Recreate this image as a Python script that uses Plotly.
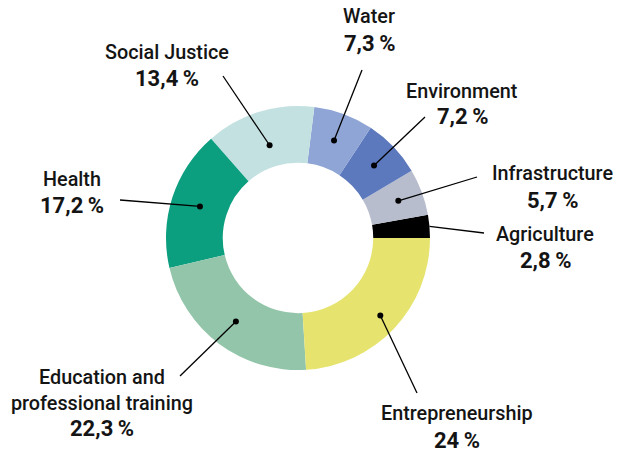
import math
import plotly.graph_objects as go

# ---- data ----
categories = ["Agriculture", "Infrastructure", "Environment", "Water",
              "Social Justice", "Health", "Education and<br>professional training",
              "Entrepreneurship"]
values = [2.8, 5.7, 7.2, 7.3, 13.4, 17.2, 22.3, 24.0]
colors = ["#000000", "#b7bdcd", "#5d79bd", "#8fa5d5",
          "#c4e1e1", "#0b9e7f", "#92c5aa", "#e6e46e"]

# ---- layout / style ----
W, H = 617, 452
CX, CY, R = 298, 238, 132
HOLE = 0.57
TXT = "#141414"

# label centre (x, y of name), leader end point, dot radius (None = no dot, start at outer edge)
label_pos = [(545, 234), (552, 173), (462, 91), (369, 16),
             (167, 52), (72, 179), (102, 390), (457, 413)]
pct_y = [260, 200, 116, 43, 78, 205, 428, 440]
line_end = [(484, 233), (477, 177), (425, 117), (362, 70),
            (223, 76), (120, 200), (180, 376), (417, 393)]
dot_r = [None, 107, 105, 104, 97, 103, 104, 113]


def fmt(v):
    s = f"{v:.1f}".replace(".", ",")
    if s.endswith(",0"):
        s = s[:-2]
    return s + "\u2009%"


total = sum(values)

fig = go.Figure()
# plotly puts the END of the first slice at `rotation` when counterclockwise;
# shift so that the first slice starts exactly at 3 o'clock
fig.add_trace(go.Pie(
    labels=categories, values=values, sort=False, direction="counterclockwise",
    rotation=90 - values[0] / total * 360, hole=HOLE, textinfo="none",
    hoverinfo="label+percent",
    marker=dict(colors=colors, line=dict(width=0)),
    domain=dict(x=[(CX - R) / W, (CX + R) / W], y=[1 - (CY + R) / H, 1 - (CY - R) / H]),
    showlegend=False,
))

cum = 0.0
annotations = []
shapes = []
for i, (cat, v) in enumerate(zip(categories, values)):
    mid = (cum + v / 2) / total * 2 * math.pi
    cum += v
    r = dot_r[i] if dot_r[i] is not None else R
    px = CX + r * math.cos(mid)
    py = CY - r * math.sin(mid)
    ex, ey = line_end[i]
    shapes.append(dict(type="line", xref="x", yref="y", x0=px, y0=py, x1=ex, y1=ey,
                       line=dict(color="#000000", width=1.3), layer="above"))
    if dot_r[i] is not None:
        shapes.append(dict(type="circle", xref="x", yref="y",
                           x0=px - 3, x1=px + 3, y0=py - 3, y1=py + 3,
                           fillcolor="#000000", line=dict(width=0), layer="above"))
    lx, ly = label_pos[i]
    annotations.append(dict(
        x=lx, y=ly, xref="x", yref="y", text=cat, showarrow=False,
        xanchor="center", yanchor="middle", align="center",
        font=dict(family="Roboto", size=19.8, color=TXT, weight=500)))
    annotations.append(dict(
        x=lx, y=pct_y[i], xref="x", yref="y", text=fmt(v), showarrow=False,
        xanchor="center", yanchor="middle",
        font=dict(family="Roboto", size=22, color=TXT, weight=700)))

fig.update_layout(
    width=W, height=H, margin=dict(l=0, r=0, t=0, b=0),
    paper_bgcolor="white", plot_bgcolor="rgba(0,0,0,0)",
    xaxis=dict(range=[0, W], visible=False, fixedrange=True, domain=[0, 1]),
    yaxis=dict(range=[H, 0], visible=False, fixedrange=True, domain=[0, 1]),
    annotations=annotations, shapes=shapes,
)

fig.write_html("out.html", config={"displayModeBar": False})
